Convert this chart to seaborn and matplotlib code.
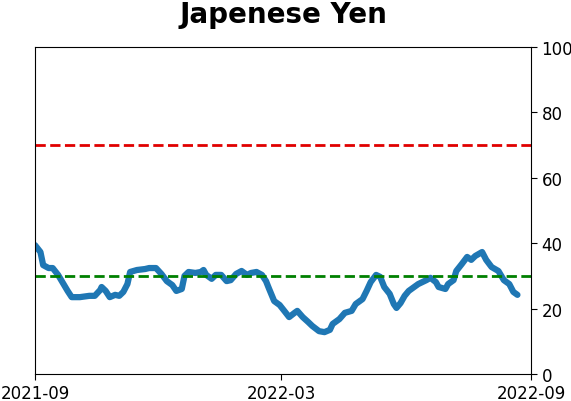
import matplotlib
matplotlib.use("Agg")
import matplotlib.pyplot as plt
import matplotlib.dates as mdates
import seaborn as sns
import pandas as pd

dates = [
    "2021-09-01", "2021-09-05", "2021-09-07", "2021-09-11", "2021-09-14", "2021-09-18",
    "2021-09-22", "2021-09-25", "2021-09-28", "2021-10-04", "2021-10-11", "2021-10-15",
    "2021-10-19", "2021-10-20", "2021-10-23", "2021-10-26", "2021-10-30", "2021-11-02",
    "2021-11-05", "2021-11-08", "2021-11-10", "2021-11-15", "2021-11-21", "2021-11-24",
    "2021-11-29", "2021-12-03", "2021-12-07", "2021-12-11", "2021-12-14", "2021-12-18",
    "2021-12-20", "2021-12-23", "2021-12-28", "2022-01-01", "2022-01-03", "2022-01-05",
    "2022-01-09", "2022-01-12", "2022-01-16", "2022-01-20", "2022-01-23", "2022-01-27",
    "2022-01-31", "2022-02-04", "2022-02-07", "2022-02-11", "2022-02-15", "2022-02-18",
    "2022-02-20", "2022-02-24", "2022-02-28", "2022-03-04", "2022-03-07", "2022-03-11",
    "2022-03-13", "2022-03-17", "2022-03-21", "2022-03-24", "2022-03-29", "2022-04-02",
    "2022-04-06", "2022-04-08", "2022-04-13", "2022-04-17", "2022-04-22", "2022-04-25",
    "2022-04-30", "2022-05-03", "2022-05-06", "2022-05-10", "2022-05-13", "2022-05-16",
    "2022-05-20", "2022-05-23", "2022-05-25", "2022-05-28", "2022-05-31", "2022-06-03",
    "2022-06-07", "2022-06-10", "2022-06-16", "2022-06-19", "2022-06-23", "2022-06-25",
    "2022-06-30", "2022-07-02", "2022-07-06", "2022-07-08", "2022-07-12", "2022-07-16",
    "2022-07-19", "2022-07-22", "2022-07-27", "2022-07-30", "2022-08-03", "2022-08-08",
    "2022-08-12", "2022-08-16", "2022-08-19", "2022-08-22",
]
values = [
    39.4, 37.3, 33.3, 32.4, 32.4, 30.3, 27.5, 25.4, 23.5, 23.5, 23.9, 23.9,
    25.7, 26.6, 25.4, 23.5, 24.2, 23.9, 25.1, 27.5, 31.2, 31.8, 32.1, 32.4,
    32.4, 30.6, 28.4, 27.2, 25.4, 26.0, 30.0, 31.2, 30.9, 31.2, 31.8, 30.3,
    29.1, 30.3, 30.3, 28.4, 28.7, 30.6, 31.5, 30.3, 30.9, 31.2, 30.3, 28.4,
    26.3, 22.3, 21.1, 19.0, 17.4, 18.7, 19.3, 17.4, 15.9, 14.7, 13.1, 12.8,
    13.5, 15.3, 16.8, 18.7, 19.3, 21.4, 22.9, 25.4, 28.1, 30.3, 29.7, 26.6,
    24.5, 21.4, 20.2, 21.7, 23.9, 25.4, 26.6, 27.5, 28.7, 29.4, 28.1, 26.6,
    26.0, 27.5, 28.7, 31.5, 33.6, 35.8, 34.9, 36.1, 37.3, 34.9, 32.7, 31.5,
    28.7, 27.5, 25.1, 24.2,
]
upper_level = 70
lower_level = 30
x_ticks = ["2021-09-01", "2022-03-01", "2022-09-01"]

df = pd.DataFrame({"date": pd.to_datetime(dates), "value": values})

sns.set_style("ticks")
fig = plt.figure(figsize=(5.71, 4.02), dpi=100)
ax = fig.add_axes([0.0613, 0.0672, 0.8687, 0.8134])

sns.lineplot(data=df, x="date", y="value", ax=ax, color="#1f77b4", linewidth=4.5)
ax.axhline(upper_level, color="#e00000", linestyle="--", linewidth=2)
ax.axhline(lower_level, color="green", linestyle="--", linewidth=2)

ax.set_xlim(pd.Timestamp("2021-09-01"), pd.Timestamp("2022-09-01"))
ax.set_ylim(0, 100)
ax.set_xticks(pd.to_datetime(x_ticks))
ax.xaxis.set_major_formatter(mdates.DateFormatter("%Y-%m"))
ax.yaxis.tick_right()
ax.set_xlabel("")
ax.set_ylabel("")
ax.tick_params(labelsize=12, colors="black", length=4)
for s in ax.spines.values():
    s.set_visible(True)
    s.set_color("black")
ax.set_title("Japenese Yen", fontsize=20, fontweight="bold", pad=18, color="black")

fig.savefig("out.png", dpi=100)
